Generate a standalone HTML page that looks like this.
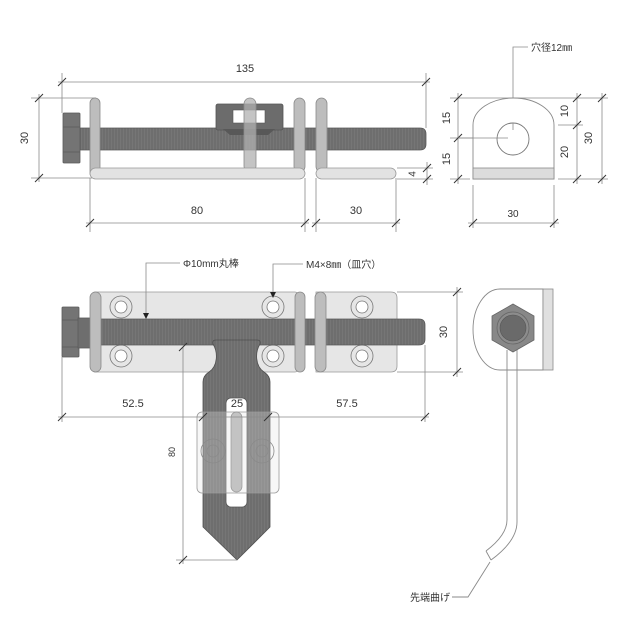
<!DOCTYPE html>
<html><head><meta charset="utf-8"><style>
html,body{margin:0;padding:0;background:#fff;}
svg{display:block;}
text{font-family:"Liberation Sans","Noto Sans CJK JP",sans-serif;fill:#333;}
</style></head><body>
<svg width="640" height="640" viewBox="0 0 640 640" xmlns="http://www.w3.org/2000/svg">
<defs>
<pattern id="st" width="3" height="10" patternUnits="userSpaceOnUse"><rect width="3" height="10" fill="#6e6e6e"/><rect width="1" height="10" fill="#767676"/></pattern>
</defs>
<rect width="640" height="640" fill="#fff"/>

<!-- ================= TOP VIEW ================= -->
<g>
<!-- dims lines -->
<g stroke="#8a8a8a" stroke-width="0.8" fill="none">
<line x1="58" y1="82" x2="430" y2="82"/>
<line x1="62" y1="73" x2="62" y2="113"/>
<line x1="426" y1="73" x2="426" y2="128"/>
<line x1="39" y1="94" x2="39" y2="182"/>
<line x1="31" y1="98" x2="96" y2="98"/>
<line x1="31" y1="178" x2="92" y2="178"/>
<line x1="86" y1="223" x2="309" y2="223"/>
<line x1="312" y1="223" x2="400" y2="223"/>
<line x1="90" y1="178" x2="90" y2="232"/>
<line x1="305" y1="178" x2="305" y2="232"/>
<line x1="316" y1="178" x2="316" y2="232"/>
<line x1="396" y1="178" x2="396" y2="232"/>
<line x1="397" y1="168" x2="433" y2="168"/>
<line x1="397" y1="179" x2="433" y2="179"/>
<line x1="427" y1="162" x2="427" y2="185"/>
</g>
<g stroke="#333" stroke-width="1">
<line x1="58" y1="86" x2="66" y2="78"/>
<line x1="422" y1="86" x2="430" y2="78"/>
<line x1="35" y1="102" x2="43" y2="94"/>
<line x1="35" y1="182" x2="43" y2="174"/>
<line x1="86" y1="227" x2="94" y2="219"/>
<line x1="301" y1="227" x2="309" y2="219"/>
<line x1="312" y1="227" x2="320" y2="219"/>
<line x1="392" y1="227" x2="400" y2="219"/>
<line x1="423" y1="172" x2="431" y2="164"/>
<line x1="423" y1="183" x2="431" y2="175"/>
</g>
<text x="245" y="72" font-size="11" text-anchor="middle">135</text>
<text x="25" y="138" font-size="11" text-anchor="middle" dominant-baseline="central" transform="rotate(-90 25 138)">30</text>
<text x="197" y="214" font-size="11" text-anchor="middle">80</text>
<text x="356" y="214" font-size="11" text-anchor="middle">30</text>
<text x="413" y="174" font-size="10" text-anchor="middle" dominant-baseline="central" transform="rotate(-90 413 174)">4</text>

<!-- rod -->
<path d="M80,128 H420 Q426,128 426,134 V144 Q426,150 420,150 H80 Z" fill="url(#st)" stroke="#5a5a5a" stroke-width="0.8"/>
<!-- bolt head -->
<rect x="63" y="113" width="17" height="50" rx="1" fill="#747474" stroke="#5a5a5a" stroke-width="0.8"/>
<line x1="63" y1="127" x2="80" y2="127" stroke="#5a5a5a" stroke-width="0.8"/>
<line x1="63" y1="152" x2="80" y2="152" stroke="#5a5a5a" stroke-width="0.8"/>
<!-- clip -->
<rect x="216" y="104" width="67" height="26" rx="2" fill="#6c6c6c" stroke="#555" stroke-width="0.8"/>
<rect x="233" y="110" width="32" height="13" fill="#fff" stroke="#555" stroke-width="0.6"/>
<path d="M223,129 H275 L268,135 H230 Z" fill="#585858"/>
<!-- uprights -->
<rect x="90" y="98" width="10" height="80" rx="5" fill="#bdbdbd" stroke="#8a8a8a" stroke-width="0.8"/>
<rect x="244" y="98" width="12" height="74" rx="6" fill="#b0b0b0" fill-opacity="0.75" stroke="#8a8a8a" stroke-width="0.8"/>
<rect x="294" y="98" width="11" height="74" rx="5.5" fill="#bdbdbd" stroke="#8a8a8a" stroke-width="0.8"/>
<rect x="316" y="98" width="11" height="74" rx="5.5" fill="#bdbdbd" stroke="#8a8a8a" stroke-width="0.8"/>
<!-- base plates -->
<rect x="90" y="168" width="215" height="11" rx="5.5" fill="#e2e2e2" stroke="#999" stroke-width="0.8"/>
<rect x="316" y="168" width="80" height="11" rx="5.5" fill="#e2e2e2" stroke="#999" stroke-width="0.8"/>
</g>

<!-- ================= TOP RIGHT SIDE VIEW ================= -->
<g>
<g stroke="#8a8a8a" stroke-width="0.8" fill="none">
<line x1="458" y1="93" x2="458" y2="184"/>
<line x1="450" y1="98" x2="513" y2="98"/>
<line x1="450" y1="138" x2="508" y2="138"/>
<line x1="450" y1="179" x2="470" y2="179"/>
<line x1="577" y1="93" x2="577" y2="184"/>
<line x1="602" y1="93" x2="602" y2="184"/>
<line x1="513" y1="98" x2="608" y2="98"/>
<line x1="558" y1="125" x2="583" y2="125"/>
<line x1="558" y1="179" x2="608" y2="179"/>
<line x1="468" y1="223" x2="559" y2="223"/>
<line x1="473" y1="185" x2="473" y2="228"/>
<line x1="554" y1="185" x2="554" y2="228"/>
<polyline points="513,123 513,47 528,47"/>
</g>
<g stroke="#333" stroke-width="1">
<line x1="454" y1="102" x2="462" y2="94"/>
<line x1="454" y1="142" x2="462" y2="134"/>
<line x1="454" y1="183" x2="462" y2="175"/>
<line x1="573" y1="102" x2="581" y2="94"/>
<line x1="573" y1="129" x2="581" y2="121"/>
<line x1="573" y1="183" x2="581" y2="175"/>
<line x1="598" y1="102" x2="606" y2="94"/>
<line x1="598" y1="183" x2="606" y2="175"/>
<line x1="469" y1="227" x2="477" y2="219"/>
<line x1="550" y1="227" x2="558" y2="219"/>
</g>
<path d="M473,179 V125 A40.5,27 0 0 1 554,125 V179 Z" fill="#fff" stroke="#8a8a8a" stroke-width="0.9"/>
<rect x="473" y="168" width="81" height="11" fill="#dcdcdc" stroke="#8a8a8a" stroke-width="0.8"/>
<circle cx="513" cy="139" r="16" fill="#fff" stroke="#777" stroke-width="0.9"/>
<line x1="513" y1="123" x2="513" y2="130" stroke="#8a8a8a" stroke-width="0.8"/>
<line x1="458" y1="138" x2="508" y2="138" stroke="#8a8a8a" stroke-width="0.8"/>
<text x="531" y="51" font-size="10">穴径12㎜</text>
<text x="447" y="118" font-size="11" text-anchor="middle" dominant-baseline="central" transform="rotate(-90 447 118)">15</text>
<text x="447" y="159" font-size="11" text-anchor="middle" dominant-baseline="central" transform="rotate(-90 447 159)">15</text>
<text x="565" y="111" font-size="11" text-anchor="middle" dominant-baseline="central" transform="rotate(-90 565 111)">10</text>
<text x="565" y="152" font-size="11" text-anchor="middle" dominant-baseline="central" transform="rotate(-90 565 152)">20</text>
<text x="589" y="138" font-size="11" text-anchor="middle" dominant-baseline="central" transform="rotate(-90 589 138)">30</text>
<text x="513" y="217" font-size="10" text-anchor="middle">30</text>
</g>

<!-- ================= FRONT VIEW ================= -->
<g>
<!-- plates -->
<rect x="92" y="292" width="206" height="80" rx="3" fill="#e6e6e6" stroke="#999" stroke-width="0.8"/>
<path d="M316,292 H391 Q397,292 397,298 V366 Q397,372 391,372 H316 Z" fill="#e6e6e6" stroke="#999" stroke-width="0.8"/>
<!-- screw holes -->
<g fill="#e6e6e6" stroke="#777" stroke-width="0.8">
<circle cx="121" cy="307" r="11"/><circle cx="121" cy="307" r="6" fill="#fff"/>
<circle cx="121" cy="356" r="11"/><circle cx="121" cy="356" r="6" fill="#fff"/>
<circle cx="273" cy="307" r="11"/><circle cx="273" cy="307" r="6" fill="#fff"/>
<circle cx="273" cy="356" r="11"/><circle cx="273" cy="356" r="6" fill="#fff"/>
<circle cx="362" cy="307" r="11"/><circle cx="362" cy="307" r="6" fill="#fff"/>
<circle cx="362" cy="356" r="11"/><circle cx="362" cy="356" r="6" fill="#fff"/>
</g>
<!-- rod -->
<path d="M78,319 H419 Q425,319 425,325 V339 Q425,345 419,345 H78 Z" fill="url(#st)" stroke="#5a5a5a" stroke-width="0.8"/>
<!-- bolt -->
<rect x="62" y="307" width="17" height="50" rx="1" fill="#747474" stroke="#5a5a5a" stroke-width="0.8"/>
<line x1="62" y1="320" x2="79" y2="320" stroke="#5a5a5a" stroke-width="0.8"/>
<line x1="62" y1="347" x2="79" y2="347" stroke="#5a5a5a" stroke-width="0.8"/>
<rect x="78" y="318" width="12" height="30" fill="#6e6e6e" stroke="#5a5a5a" stroke-width="0.8"/>
<!-- handle -->
<path d="M216,340 L257,340 Q261,340 260,344 C255,352 255,366 264,372 Q270,376 270,382 L270,527 L237,560 L203,527 L203,382 Q203,376 209,372 C218,366 218,352 213,344 Q212,340 216,340 Z" fill="url(#st)" stroke="#505050" stroke-width="0.8"/>
<!-- slot -->
<rect x="226" y="398" width="21" height="109" rx="5" fill="#fff" stroke="#555" stroke-width="0.8"/>
<rect x="231" y="412" width="11" height="80" rx="5.5" fill="#b5b5b5" stroke="#777" stroke-width="0.7"/>
<!-- keeper -->
<rect x="197" y="412" width="82" height="81" rx="5" fill="#e6e6e6" fill-opacity="0.3" stroke="#999" stroke-width="0.8"/>
<g fill="none" stroke="#8a8a8a" stroke-width="0.8">
<circle cx="213" cy="451" r="12"/><circle cx="213" cy="451" r="6"/>
<circle cx="262" cy="451" r="12"/><circle cx="262" cy="451" r="6"/>
</g>
<!-- uprights -->
<rect x="90" y="292" width="11" height="80" rx="5.5" fill="#bdbdbd" stroke="#8a8a8a" stroke-width="0.8"/>
<rect x="295" y="292" width="10" height="80" rx="5" fill="#bdbdbd" stroke="#8a8a8a" stroke-width="0.8"/>
<rect x="315" y="292" width="11" height="80" rx="5.5" fill="#bdbdbd" stroke="#8a8a8a" stroke-width="0.8"/>

<!-- dims -->
<g stroke="#8a8a8a" stroke-width="0.8" fill="none">
<line x1="58" y1="417" x2="429" y2="417"/>
<line x1="62" y1="357" x2="62" y2="422"/>
<line x1="425" y1="345" x2="425" y2="422"/>
<line x1="183" y1="347" x2="183" y2="564"/>
<line x1="176" y1="560" x2="237" y2="560"/>
<line x1="457" y1="287" x2="457" y2="377"/>
<line x1="397" y1="292" x2="463" y2="292"/>
<line x1="397" y1="372" x2="463" y2="372"/>
<polyline points="180,263 146,263 146,314"/>
<polyline points="303,264 273,264 273,293"/>
</g>
<path d="M143,313 L149,313 L146,319 Z" fill="#222"/>
<path d="M270,292 L276,292 L273,298 Z" fill="#222"/>
<g stroke="#333" stroke-width="1">
<line x1="58" y1="421" x2="66" y2="413"/>
<line x1="199" y1="421" x2="207" y2="413"/>
<line x1="264" y1="421" x2="272" y2="413"/>
<line x1="421" y1="421" x2="429" y2="413"/>
<line x1="179" y1="351" x2="187" y2="343"/>
<line x1="179" y1="564" x2="187" y2="556"/>
<line x1="453" y1="296" x2="461" y2="288"/>
<line x1="453" y1="376" x2="461" y2="368"/>
</g>
<text x="133" y="407" font-size="11" text-anchor="middle">52.5</text>
<text x="237" y="407" font-size="11" text-anchor="middle">25</text>
<text x="347" y="407" font-size="11" text-anchor="middle">57.5</text>
<text x="172" y="452" font-size="9" text-anchor="middle" dominant-baseline="central" transform="rotate(-90 172 452)">80</text>
<text x="444" y="332" font-size="11" text-anchor="middle" dominant-baseline="central" transform="rotate(-90 444 332)">30</text>
<text x="183" y="267" font-size="10">Φ10mm丸棒</text>
<text x="306" y="268" font-size="10">M4×8㎜（皿穴）</text>
</g>

<!-- ================= LOWER RIGHT SIDE VIEW ================= -->
<g>
<path d="M543,289 H500 A27,40.5 0 0 0 500,370 H543 Z" fill="#fff" stroke="#8a8a8a" stroke-width="0.9"/>
<rect x="543" y="289" width="10" height="81" fill="#e0e0e0" stroke="#8a8a8a" stroke-width="0.8"/>
<g stroke="#8a8a8a" stroke-width="0.9" fill="none">
<path d="M507,350 V520 Q507,535 486,551"/>
<path d="M517,350 V522 Q517,541 491,560"/>
<line x1="486" y1="551" x2="491" y2="560"/>
<polyline points="490,562 468,597 452,597"/>
</g>
<polygon points="513,304 534,316 534,340 513,352 492,340 492,316" fill="#888" stroke="#666" stroke-width="0.8"/>
<circle cx="513" cy="328" r="16" fill="#8c8c8c" stroke="#666" stroke-width="0.8"/>
<circle cx="513" cy="328" r="13" fill="#6a6a6a" stroke="#555" stroke-width="0.6"/>
<text x="410" y="601" font-size="10">先端曲げ</text>
</g>
</svg>
</body></html>
